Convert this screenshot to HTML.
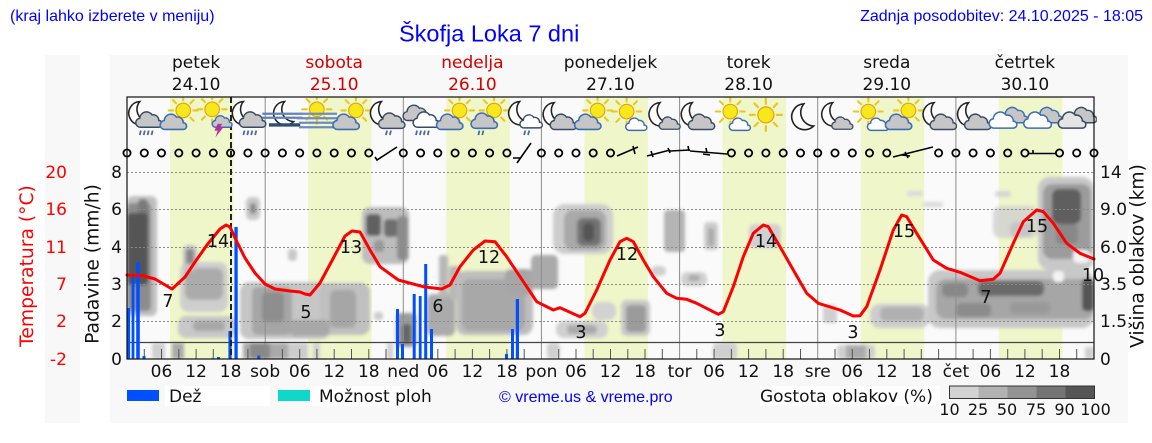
<!DOCTYPE html>
<html><head><meta charset="utf-8"><style>
html,body{margin:0;padding:0;background:#fff;}
svg{display:block;}
.dj{font-family:"DejaVu Sans","Liberation Sans",sans-serif;}
.ls{font-family:"Liberation Sans","DejaVu Sans",sans-serif;}
</style></head><body>
<svg width="1152" height="443" viewBox="0 0 1152 443" xmlns="http://www.w3.org/2000/svg">
<defs>
<clipPath id="pc"><rect x="127" y="97" width="967" height="262"/></clipPath>
<filter id="bl" x="-20%" y="-20%" width="140%" height="140%"><feGaussianBlur stdDeviation="1.5"/></filter>
<path id="cl" d="M6,16 a4,4 0 0 1 -1,-8 a6,6 0 0 1 11,-3 a5,5 0 0 1 6,5 a3,3 0 0 1 0,6 Z"/>
<path id="mn" d="M11,1 A10.5,10.5 0 1 0 19,19 A11,11 0 0 1 11,1 Z"/>
<g id="sun"><g stroke="#ebc61e" stroke-width="1.8" stroke-linecap="round"><line x1="0" y1="-9" x2="0" y2="-13"/><line x1="6.4" y1="-6.4" x2="9.2" y2="-9.2"/><line x1="9" y1="0" x2="13" y2="0"/><line x1="6.4" y1="6.4" x2="9.2" y2="9.2"/><line x1="0" y1="9" x2="0" y2="13"/><line x1="-6.4" y1="6.4" x2="-9.2" y2="9.2"/><line x1="-9" y1="0" x2="-13" y2="0"/><line x1="-6.4" y1="-6.4" x2="-9.2" y2="-9.2"/></g><circle r="6.5" fill="#f8e71c" stroke="#e0a500" stroke-width="1"/></g>
<g id="r4" stroke="#4b6b99" stroke-width="1.6"><line x1="15" y1="30" x2="14" y2="34"/><line x1="18.5" y1="30" x2="17.5" y2="34"/><line x1="22" y1="30" x2="21" y2="34"/><line x1="25.5" y1="30" x2="24.5" y2="34"/></g>
<g id="r2" stroke="#4b6b99" stroke-width="1.6"><line x1="19" y1="30" x2="18" y2="34"/><line x1="22.5" y1="30" x2="21.5" y2="34"/></g>

<symbol id="i_mcr" viewBox="0 0 36 36"><use href="#mn" transform="translate(3,3)" fill="#fff" stroke="#222" stroke-width="1.4"/><use href="#cl" transform="translate(9,11)" fill="#c6c6c6" stroke="#3a4a66" stroke-width="1.3"/><use href="#r4"/></symbol>
<symbol id="i_sc" viewBox="0 0 36 36"><use href="#sun" transform="translate(22,12)"/><use href="#cl" transform="translate(0,13)" fill="#c6c6c6" stroke="#3d6db5" stroke-width="1.4"/></symbol>
<symbol id="i_sth" viewBox="0 0 36 36"><use href="#sun" transform="translate(17,11)"/><use href="#cl" transform="translate(16,15) scale(0.75)" fill="#c6c6c6" stroke="#3d6db5" stroke-width="1.7"/><path d="M22,24 L19,30 L22,30 L20,36 L27,27 L24,27 L26,24 Z" fill="#b0309f"/></symbol>
<symbol id="i_mfog" viewBox="0 0 36 36"><use href="#mn" transform="translate(9,3)" fill="#fff" stroke="#222" stroke-width="1.4"/><line x1="0" y1="15" x2="36" y2="15" stroke="#5f82b8" stroke-width="2"/><line x1="0" y1="18.5" x2="36" y2="18.5" stroke="#5f82b8" stroke-width="2"/><line x1="6" y1="25" x2="34" y2="25" stroke="#2d4d75" stroke-width="3"/></symbol>
<symbol id="i_sfog" viewBox="0 0 36 36"><use href="#sun" transform="translate(18,11)"/><g stroke="#6c8cc0" stroke-width="2"><line x1="0" y1="15" x2="36" y2="15"/><line x1="0" y1="19" x2="36" y2="19"/><line x1="2" y1="23" x2="34" y2="23"/><line x1="2" y1="27" x2="34" y2="27"/></g></symbol>
<symbol id="i_mcr2" viewBox="0 0 36 36"><use href="#mn" transform="translate(3,3)" fill="#fff" stroke="#222" stroke-width="1.4"/><use href="#cl" transform="translate(10,12)" fill="#c6c6c6" stroke="#3a4a66" stroke-width="1.3"/><use href="#r2"/></symbol>
<symbol id="i_crain" viewBox="0 0 36 36"><use href="#cl" transform="translate(1,5)" fill="#c6c6c6" stroke="#3a4a66" stroke-width="1.3"/><use href="#cl" transform="translate(10,11)" fill="#fff" stroke="#3a4a66" stroke-width="1.3"/><use href="#r4"/></symbol>
<symbol id="i_scr" viewBox="0 0 36 36"><use href="#sun" transform="translate(22,12)"/><use href="#cl" transform="translate(0,12)" fill="#c6c6c6" stroke="#3d6db5" stroke-width="1.4"/><g stroke="#4b6b99" stroke-width="1.6"><line x1="9" y1="30" x2="8" y2="34"/><line x1="12.5" y1="30" x2="11.5" y2="34"/></g></symbol>
<symbol id="i_msc" viewBox="0 0 36 36"><use href="#mn" transform="translate(3,3)" fill="#fff" stroke="#222" stroke-width="1.4"/><use href="#cl" transform="translate(13,14) scale(0.85)" fill="#fff" stroke="#3a4a66" stroke-width="1.5"/><use href="#r2"/></symbol>
<symbol id="i_mc" viewBox="0 0 36 36"><use href="#mn" transform="translate(3,4)" fill="#fff" stroke="#222" stroke-width="1.4"/><use href="#cl" transform="translate(9,13)" fill="#c6c6c6" stroke="#3a4a66" stroke-width="1.3"/></symbol>
<symbol id="i_mcs" viewBox="0 0 36 36"><use href="#mn" transform="translate(5,4)" fill="#fff" stroke="#222" stroke-width="1.4"/><use href="#cl" transform="translate(14,16) scale(0.8)" fill="#c6c6c6" stroke="#3a4a66" stroke-width="1.5"/></symbol>
<symbol id="i_ssc" viewBox="0 0 36 36"><use href="#sun" transform="translate(17,13)"/><use href="#cl" transform="translate(15,17) scale(0.8)" fill="#fff" stroke="#3d6db5" stroke-width="1.6"/></symbol>
<symbol id="i_s" viewBox="0 0 36 36"><use href="#sun" transform="translate(18,16) scale(1.1)"/></symbol>
<symbol id="i_m" viewBox="0 0 36 36"><use href="#mn" transform="translate(9,5) scale(1.1)" fill="#fff" stroke="#222" stroke-width="1.3"/></symbol>
<symbol id="i_cc" viewBox="0 0 36 36"><use href="#cl" transform="translate(11,7)" fill="#c6c6c6" stroke="#3d6db5" stroke-width="1.3"/><use href="#cl" transform="translate(0,11) scale(1.05)" fill="#fff" stroke="#3d6db5" stroke-width="1.3"/></symbol>
<symbol id="i_ccg" viewBox="0 0 36 36"><use href="#cl" transform="translate(11,7)" fill="#c6c6c6" stroke="#3a4a66" stroke-width="1.3"/><use href="#cl" transform="translate(0,11) scale(1.05)" fill="#e4e4e4" stroke="#3a4a66" stroke-width="1.3"/></symbol>
</defs>

<rect width="1152" height="443" fill="#fff"/>
<text x="10" y="21" class="ls" font-size="16" fill="#0000ff">(kraj lahko izberete v meniju)</text>
<text x="399" y="41.5" class="ls" font-size="23.5" fill="#0000ff">Škofja Loka 7 dni</text>
<text x="1143" y="21" class="ls" font-size="16" fill="#0000ff" text-anchor="end">Zadnja posodobitev: 24.10.2025 - 18:05</text>

<rect x="45" y="55" width="35" height="368" fill="#f8f8f8"/>
<rect x="110" y="55" width="1018" height="368" fill="#f8f8f8"/>
<rect x="127" y="97" width="967" height="262" fill="#fafafa"/>

<g fill="#eff6c9">
<rect x="170" y="97" width="63.5" height="262"/>
<rect x="308.1" y="97" width="63.5" height="262"/>
<rect x="446.3" y="97" width="63.5" height="262"/>
<rect x="584.4" y="97" width="63.5" height="262"/>
<rect x="722.6" y="97" width="63.5" height="262"/>
<rect x="860.7" y="97" width="63.5" height="262"/>
<rect x="998.8" y="97" width="63.5" height="262"/>
</g>

<g clip-path="url(#pc)" filter="url(#bl)">
<rect x="127" y="196" width="30" height="120" rx="6" fill="#c0c0c0"/>
<rect x="127" y="203" width="24" height="108" rx="4" fill="#8c8c8c"/>
<rect x="138" y="199" width="10" height="30" rx="4" fill="#7a7a7a"/>
<rect x="127" y="213" width="21" height="72" rx="4" fill="#555"/>
<rect x="180" y="262" width="48" height="50" rx="9" fill="#cfcfcf"/>
<rect x="185" y="268" width="38" height="32" rx="7" fill="#ababab"/>
<rect x="183" y="245" width="14" height="26" rx="5" fill="#c4c4c4"/>
<rect x="186" y="249" width="8" height="15" rx="3" fill="#888"/>
<rect x="178" y="316" width="58" height="22" rx="8" fill="#c8c8c8"/>
<rect x="193" y="321" width="32" height="10" rx="4" fill="#a8a8a8"/>
<rect x="246" y="197" width="14" height="23" rx="5" fill="#c8c8c8"/>
<rect x="250" y="203" width="6" height="11" rx="3" fill="#888"/>
<rect x="288" y="249" width="9" height="12" rx="4" fill="#c8c8c8"/>
<rect x="240" y="282" width="90" height="57" rx="9" fill="#c6c6c6"/>
<rect x="252" y="287" width="40" height="48" rx="6" fill="#a6a6a6"/>
<rect x="262" y="292" width="22" height="30" rx="5" fill="#8e8e8e"/>
<rect x="320" y="283" width="50" height="52" rx="9" fill="#c0c0c0"/>
<rect x="330" y="290" width="26" height="38" rx="6" fill="#a6a6a6"/>
<rect x="290" y="320" width="40" height="16" rx="5" fill="#a8a8a8"/>
<rect x="362" y="207" width="47" height="57" rx="8" fill="#bdbdbd"/>
<rect x="366" y="214" width="15" height="22" rx="4" fill="#606060"/>
<rect x="384" y="219" width="14" height="18" rx="4" fill="#6e6e6e"/>
<rect x="374" y="240" width="10" height="12" rx="3" fill="#999"/>
<rect x="397" y="216" width="11" height="44" rx="4" fill="#8c8c8c"/>
<rect x="374" y="312" width="9" height="8" rx="3" fill="#cccccc"/>
<rect x="396" y="313" width="20" height="34" rx="5" fill="#9c9c9c"/>
<rect x="402" y="324" width="9" height="19" rx="3" fill="#666"/>
<rect x="427" y="294" width="28" height="42" rx="6" fill="#ababab"/>
<rect x="439" y="255" width="9" height="43" rx="3" fill="#b8b8b8"/>
<rect x="449" y="266" width="11" height="34" rx="3" fill="#b8b8b8"/>
<rect x="456" y="271" width="77" height="64" rx="10" fill="#bdbdbd"/>
<rect x="462" y="279" width="63" height="52" rx="8" fill="#a8a8a8"/>
<rect x="505" y="269" width="28" height="26" rx="6" fill="#a6a6a6"/>
<rect x="531" y="255" width="27" height="34" rx="5" fill="#aaaaaa"/>
<rect x="553" y="204" width="60" height="50" rx="12" fill="#cdcdcd"/>
<rect x="564" y="210" width="42" height="40" rx="9" fill="#a9a9a9"/>
<rect x="577" y="218" width="24" height="28" rx="6" fill="#727272"/>
<rect x="583" y="223" width="11" height="18" rx="4" fill="#555"/>
<rect x="556" y="321" width="52" height="17" rx="8" fill="#d0d0d0"/>
<rect x="567" y="325" width="30" height="9" rx="4" fill="#aaa"/>
<rect x="592" y="302" width="24" height="18" rx="8" fill="#d2d2d2"/>
<rect x="621" y="300" width="29" height="36" rx="6" fill="#c8c8c8"/>
<rect x="626" y="305" width="20" height="27" rx="4" fill="#9b9b9b"/>
<rect x="664" y="210" width="21" height="42" rx="4" fill="#b4b4b4"/>
<rect x="704" y="222" width="14" height="28" rx="4" fill="#cccccc"/>
<rect x="708" y="228" width="6" height="18" rx="2" fill="#aaa"/>
<rect x="651" y="266" width="15" height="10" rx="5" fill="#d0d0d0"/>
<rect x="681" y="272" width="26" height="14" rx="6" fill="#d0d0d0"/>
<rect x="688" y="275" width="12" height="6" rx="3" fill="#aaa"/>
<rect x="749" y="224" width="32" height="24" rx="6" fill="#d0d0d0"/>
<rect x="823" y="305" width="14" height="18" rx="3" fill="#d0d0d0"/>
<rect x="870" y="304" width="60" height="24" rx="10" fill="#cdcdcd"/>
<rect x="880" y="307" width="44" height="14" rx="6" fill="#b0b0b0"/>
<rect x="928" y="270" width="166" height="58" rx="12" fill="#c8c8c8"/>
<rect x="936" y="279" width="158" height="40" rx="10" fill="#a6a6a6"/>
<rect x="942" y="283" width="26" height="14" rx="5" fill="#888"/>
<rect x="978" y="281" width="66" height="15" rx="6" fill="#6a6a6a"/>
<rect x="956" y="303" width="35" height="14" rx="5" fill="#8c8c8c"/>
<rect x="1010" y="302" width="40" height="12" rx="5" fill="#999"/>
<rect x="1082" y="279" width="12" height="32" rx="4" fill="#555"/>
<rect x="1053" y="271" width="11" height="11" rx="4" fill="#f4f4f4"/>
<rect x="1038" y="177" width="56" height="93" rx="12" fill="#c8c8c8"/>
<rect x="1043" y="184" width="48" height="75" rx="9" fill="#9c9c9c"/>
<rect x="1052" y="189" width="29" height="35" rx="7" fill="#5e5e5e"/>
<rect x="1056" y="224" width="22" height="20" rx="5" fill="#888"/>
<rect x="1073" y="250" width="17" height="13" rx="5" fill="#f4f4f4"/>
<rect x="1010" y="222" width="22" height="15" rx="5" fill="#9c9c9c"/>
<rect x="993" y="206" width="45" height="32" rx="8" fill="#d0d0d0" opacity="0.8"/>
<rect x="995" y="191" width="16" height="6" rx="3" fill="#d6d6d6"/>
<rect x="907" y="191" width="16" height="5" rx="2" fill="#dadada"/>
<rect x="923" y="202" width="20" height="5" rx="2" fill="#dadada"/>
<rect x="152" y="343" width="13" height="16" fill="#d0d0d0"/>
<rect x="172" y="343" width="12" height="16" fill="#aaa"/>
<rect x="243" y="343" width="45" height="16" fill="#aaa"/>
<rect x="250" y="343" width="20" height="16" fill="#888"/>
<rect x="288" y="343" width="20" height="16" fill="#cccccc"/>
<rect x="313" y="343" width="7" height="16" fill="#d0d0d0"/>
<rect x="387" y="343" width="6" height="16" fill="#d0d0d0"/>
<rect x="547" y="343" width="13" height="16" rx="4" fill="#d0d0d0"/>
<rect x="713" y="343" width="24" height="16" rx="4" fill="#d0d0d0"/>
<rect x="837" y="345" width="38" height="14" rx="4" fill="#d0d0d0"/>
<rect x="846" y="345" width="20" height="14" fill="#aaa"/>
<rect x="1085" y="347" width="9" height="12" fill="#d0d0d0"/>
</g>

<g stroke="#8a8a8a" stroke-width="1" stroke-dasharray="2,2">
<line x1="127" y1="172.5" x2="1094" y2="172.5"/>
<line x1="127" y1="209.5" x2="1094" y2="209.5"/>
<line x1="127" y1="247.5" x2="1094" y2="247.5"/>
<line x1="127" y1="284.5" x2="1094" y2="284.5"/>
<line x1="127" y1="321.5" x2="1094" y2="321.5"/>
</g>
<g stroke="#8c8c8c" stroke-width="1">
<line x1="265.2" y1="97" x2="265.2" y2="359"/>
<line x1="403.3" y1="97" x2="403.3" y2="359"/>
<line x1="541.4" y1="97" x2="541.4" y2="359"/>
<line x1="679.6" y1="97" x2="679.6" y2="359"/>
<line x1="817.7" y1="97" x2="817.7" y2="359"/>
<line x1="955.9" y1="97" x2="955.9" y2="359"/>
</g>
<line x1="127" y1="342.5" x2="1094" y2="342.5" stroke="#444" stroke-width="1.3"/>

<g stroke="#555" stroke-width="1">
<path d="M144.3,349V359M161.5,349V359M178.8,349V359M196.1,349V359M213.3,349V359M230.6,349V359M247.9,349V359M282.4,349V359M299.7,349V359M316.9,349V359M334.2,349V359M351.5,349V359M368.8,349V359M386,349V359M420.6,349V359M437.8,349V359M455.1,349V359M472.4,349V359M489.6,349V359M506.9,349V359M524.2,349V359M558.7,349V359M576,349V359M593.2,349V359M610.5,349V359M627.8,349V359M645,349V359M662.3,349V359M696.8,349V359M714.1,349V359M731.4,349V359M748.6,349V359M765.9,349V359M783.2,349V359M800.5,349V359M835,349V359M852.3,349V359M869.5,349V359M886.8,349V359M904.1,349V359M921.3,349V359M938.6,349V359M973.1,349V359M990.4,349V359M1007.7,349V359M1024.9,349V359M1042.2,349V359M1059.5,349V359M1076.7,349V359"/>
</g>

<g fill="#0050ff">
<rect x="127.3" y="308" width="2.8" height="51"/>
<rect x="131.6" y="277" width="2.8" height="82"/>
<rect x="136.2" y="262" width="3.6" height="97"/>
<rect x="142.5" y="356" width="3" height="3"/>
<rect x="228.4" y="331" width="3.2" height="28"/>
<rect x="234.4" y="227" width="3.3" height="132"/>
<rect x="257.3" y="355.5" width="3" height="3.5"/>
<rect x="396" y="309" width="3" height="50"/>
<rect x="401" y="344" width="3" height="15"/>
<rect x="412.7" y="294" width="3" height="65"/>
<rect x="418.8" y="296" width="2.8" height="63"/>
<rect x="424.2" y="264" width="3" height="95"/>
<rect x="430" y="329" width="3" height="30"/>
<rect x="505" y="354" width="3" height="5"/>
<rect x="511" y="329" width="3" height="30"/>
<rect x="515.8" y="299" width="3.2" height="60"/>
<rect x="217" y="357" width="3" height="2"/>
</g>
<rect x="211.5" y="357.5" width="3" height="1.5" fill="#10d8c8"/>

<line x1="231" y1="97" x2="231" y2="359" stroke="#222" stroke-width="2" stroke-dasharray="6,3"/>

<polyline fill="none" stroke="#ff0000" stroke-width="3" stroke-linejoin="round" stroke-linecap="round" points="127,275 142,275.5 155,279 172,289 185,277 195,262 207,245 220,229 226,225 230,227 236,240 245,258 255,273 265,284 275,289 290,291 300,292 305,294 310,295 320,283 335,255 345,236 352,231 360,232 370,250 380,266.7 398.3,280 423.3,286.7 441.7,289 450,285 460,266.7 473.3,250 485,241 495,241.7 506.7,256.7 520,276.7 536.7,301.7 553.3,310 560,307.7 580,316.7 585,313.3 596.7,290 610,260 620,241.7 626.7,238.3 633.3,241.7 643.3,260 653.3,276.7 666.7,293.3 676.7,298.3 686.7,299.3 696.7,303.3 718.3,314.3 723.3,311.7 733.3,286.7 743.3,256.7 753.3,233.3 763.3,225 768.3,226.7 780,246.7 793.3,270 806.7,293.3 818.3,303.3 840,310 853.3,316 860,315.7 866.7,306.7 880,270 893.3,230 901.7,215 906.7,216.7 916.7,233.3 933.3,260 946.7,268.3 960,272.3 980,280.7 993.3,279.3 1000,273.3 1013.3,243.3 1023.3,221.7 1036.7,210 1043.3,211.7 1053.3,223.3 1066.7,243.3 1080,253.3 1094,259"/>
<g class="dj" font-size="17.5" fill="#111" text-anchor="middle">
<text x="168" y="307">7</text>
<text x="218" y="247">14</text>
<text x="306" y="318">5</text>
<text x="351" y="253">13</text>
<text x="438" y="312">6</text>
<text x="489" y="263">12</text>
<text x="581" y="338">3</text>
<text x="627" y="260">12</text>
<text x="720" y="336">3</text>
<text x="766" y="247">14</text>
<text x="853" y="338">3</text>
<text x="904" y="237">15</text>
<text x="986" y="303">7</text>
<text x="1037" y="232">15</text>
<text x="1093" y="281">10</text>
</g>

<g transform="translate(0,-2)">
<use href="#i_mcr" x="124.1" y="99" width="40.3" height="40.3"/>
<use href="#i_sc" x="158.6" y="99" width="40.3" height="40.3"/>
<use href="#i_sth" x="193.1" y="99" width="40.3" height="40.3"/>
<use href="#i_mcr" x="227.7" y="99" width="40.3" height="40.3"/>
<use href="#i_mfog" x="262.2" y="99" width="40.3" height="40.3"/>
<use href="#i_sfog" x="296.7" y="99" width="40.3" height="40.3"/>
<use href="#i_sc" x="331.3" y="99" width="40.3" height="40.3"/>
<use href="#i_mcr2" x="365.8" y="99" width="40.3" height="40.3"/>
<use href="#i_crain" x="400.3" y="99" width="40.3" height="40.3"/>
<use href="#i_sc" x="434.9" y="99" width="40.3" height="40.3"/>
<use href="#i_scr" x="469.4" y="99" width="40.3" height="40.3"/>
<use href="#i_msc" x="504" y="99" width="40.3" height="40.3"/>
<use href="#i_mc" x="538.5" y="99" width="40.3" height="40.3"/>
<use href="#i_sc" x="573" y="99" width="40.3" height="40.3"/>
<use href="#i_ssc" x="607.6" y="99" width="40.3" height="40.3"/>
<use href="#i_mcs" x="642.1" y="99" width="40.3" height="40.3"/>
<use href="#i_mc" x="676.6" y="99" width="40.3" height="40.3"/>
<use href="#i_ssc" x="711.2" y="99" width="40.3" height="40.3"/>
<use href="#i_s" x="745.7" y="99" width="40.3" height="40.3"/>
<use href="#i_m" x="780.2" y="99" width="40.3" height="40.3"/>
<use href="#i_mcs" x="814.8" y="99" width="40.3" height="40.3"/>
<use href="#i_ssc" x="849.3" y="99" width="40.3" height="40.3"/>
<use href="#i_sc" x="883.8" y="99" width="40.3" height="40.3"/>
<use href="#i_mc" x="918.4" y="99" width="40.3" height="40.3"/>
<use href="#i_mc" x="952.9" y="99" width="40.3" height="40.3"/>
<use href="#i_cc" x="987.4" y="99" width="40.3" height="40.3"/>
<use href="#i_cc" x="1022" y="99" width="40.3" height="40.3"/>
<use href="#i_ccg" x="1056.5" y="99" width="40.3" height="40.3"/>
</g>

<g fill="none" stroke="#000" stroke-width="1.8">
<circle cx="127" cy="153" r="3.6"/><circle cx="144.3" cy="153" r="3.6"/><circle cx="161.5" cy="153" r="3.6"/><circle cx="178.8" cy="153" r="3.6"/><circle cx="196.1" cy="153" r="3.6"/><circle cx="213.3" cy="153" r="3.6"/><circle cx="230.6" cy="153" r="3.6"/><circle cx="247.9" cy="153" r="3.6"/><circle cx="265.1" cy="153" r="3.6"/><circle cx="282.4" cy="153" r="3.6"/><circle cx="299.7" cy="153" r="3.6"/><circle cx="316.9" cy="153" r="3.6"/><circle cx="334.2" cy="153" r="3.6"/><circle cx="351.5" cy="153" r="3.6"/><circle cx="368.8" cy="153" r="3.6"/>
<circle cx="403.3" cy="153" r="3.6"/><circle cx="420.6" cy="153" r="3.6"/><circle cx="437.8" cy="153" r="3.6"/><circle cx="455.1" cy="153" r="3.6"/><circle cx="472.4" cy="153" r="3.6"/><circle cx="489.6" cy="153" r="3.6"/><circle cx="506.9" cy="153" r="3.6"/>
<circle cx="541.4" cy="153" r="3.6"/><circle cx="558.7" cy="153" r="3.6"/><circle cx="576" cy="153" r="3.6"/><circle cx="593.2" cy="153" r="3.6"/><circle cx="610.5" cy="153" r="3.6"/>
<circle cx="731.4" cy="153" r="3.6"/><circle cx="748.6" cy="153" r="3.6"/><circle cx="765.9" cy="153" r="3.6"/><circle cx="783.2" cy="153" r="3.6"/><circle cx="800.5" cy="153" r="3.6"/><circle cx="817.7" cy="153" r="3.6"/><circle cx="835" cy="153" r="3.6"/><circle cx="852.3" cy="153" r="3.6"/><circle cx="869.5" cy="153" r="3.6"/><circle cx="886.8" cy="153" r="3.6"/>
<circle cx="938.6" cy="153" r="3.6"/><circle cx="955.9" cy="153" r="3.6"/><circle cx="973.1" cy="153" r="3.6"/><circle cx="990.4" cy="153" r="3.6"/><circle cx="1007.7" cy="153" r="3.6"/><circle cx="1024.9" cy="153" r="3.6"/>
<circle cx="1059.5" cy="153" r="3.6"/><circle cx="1076.7" cy="153" r="3.6"/><circle cx="1094" cy="153" r="3.6"/>
<path stroke-width="1.6" d="M375,157 L377,160 L397,147 M513,158 L520,158 M517,163 L531,143 M617,156 L638,147 M633,146 L635,154 M647,156 L670,150 M651,151 L653,157 M668,148 L670,153 M670,151 L690,150 M688,146 L689,151 M690,151 L727,154 M706,148 L707,153 M703,154 L710,155 M893,157 L933,147 M905,152 L908,158 M902,155 L910,156 M1028,153.5 L1056,153.5 M1033,150 L1033,154"/>
</g>

<rect x="127" y="97" width="967" height="262" fill="none" stroke="#111" stroke-width="1.2"/>

<g class="dj" font-size="17" text-anchor="middle" fill="#111">
<text x="196.1" y="68">petek</text><text x="196.1" y="90">24.10</text>
<text x="334.2" y="68" fill="#d40000">sobota</text><text x="334.2" y="90" fill="#d40000">25.10</text>
<text x="472.4" y="68" fill="#d40000">nedelja</text><text x="472.4" y="90" fill="#d40000">26.10</text>
<text x="610.5" y="68">ponedeljek</text><text x="610.5" y="90">27.10</text>
<text x="748.6" y="68">torek</text><text x="748.6" y="90">28.10</text>
<text x="886.8" y="68">sreda</text><text x="886.8" y="90">29.10</text>
<text x="1024.9" y="68">četrtek</text><text x="1024.9" y="90">30.10</text>
</g>

<g class="dj" font-size="17" text-anchor="middle" fill="#111">
<text x="161.5" y="377">06</text><text x="196.1" y="377">12</text><text x="230.6" y="377">18</text>
<text x="265.1" y="377">sob</text><text x="299.7" y="377">06</text><text x="334.2" y="377">12</text><text x="368.8" y="377">18</text>
<text x="403.3" y="377">ned</text><text x="437.8" y="377">06</text><text x="472.4" y="377">12</text><text x="506.9" y="377">18</text>
<text x="541.4" y="377">pon</text><text x="576" y="377">06</text><text x="610.5" y="377">12</text><text x="645" y="377">18</text>
<text x="679.6" y="377">tor</text><text x="714.1" y="377">06</text><text x="748.6" y="377">12</text><text x="783.2" y="377">18</text>
<text x="817.7" y="377">sre</text><text x="852.3" y="377">06</text><text x="886.8" y="377">12</text><text x="921.3" y="377">18</text>
<text x="955.9" y="377">čet</text><text x="990.4" y="377">06</text><text x="1024.9" y="377">12</text><text x="1059.5" y="377">18</text>
</g>

<g class="dj" font-size="17" text-anchor="end" fill="#111">
<text x="122" y="178">8</text><text x="122" y="215">6</text><text x="122" y="253">4</text><text x="122" y="290">3</text><text x="122" y="327">2</text><text x="122" y="365">0</text>
</g>
<g class="dj" font-size="17" text-anchor="end" fill="#ff0000">
<text x="67" y="178">20</text><text x="67" y="215">16</text><text x="67" y="253">11</text><text x="67" y="290">7</text><text x="67" y="327">2</text><text x="67" y="365">-2</text>
</g>
<g class="dj" font-size="17" fill="#111">
<text x="1100" y="178">14</text><text x="1100" y="215">9.0</text><text x="1100" y="253">6.0</text><text x="1100" y="290">3.5</text><text x="1100" y="327">1.5</text><text x="1100" y="365">0</text>
</g>
<text class="dj" font-size="18.7" fill="#ff0000" text-anchor="middle" transform="translate(33,266) rotate(-90)">Temperatura (°C)</text>
<text class="dj" font-size="18.7" fill="#111" text-anchor="middle" transform="translate(98.5,264) rotate(-90)">Padavine (mm/h)</text>
<text class="dj" font-size="18.7" fill="#111" text-anchor="middle" transform="translate(1143.5,256) rotate(-90)">Višina oblakov (km)</text>

<rect x="127" y="390" width="32" height="11" fill="#0050ff"/>
<rect x="165" y="386" width="105" height="20" fill="#fff"/>
<text x="169" y="402" class="dj" font-size="17" fill="#111">Dež</text>
<rect x="278" y="390" width="32" height="11" fill="#10d8c8"/>
<rect x="310" y="386" width="110" height="20" fill="#fff"/>
<text x="319" y="402" class="dj" font-size="17" fill="#111">Možnost ploh</text>
<text x="499" y="402" class="ls" font-size="16" fill="#0000ff">© vreme.us &amp; vreme.pro</text>
<rect x="760" y="386" width="180" height="20" fill="#fff"/>
<text x="760" y="402" class="dj" font-size="17" fill="#111">Gostota oblakov (%)</text>
<rect x="949.5" y="386" width="29" height="12.5" fill="#d2d2d2"/>
<rect x="978.5" y="386" width="29" height="12.5" fill="#b2b2b2"/>
<rect x="1007.5" y="386" width="29" height="12.5" fill="#939393"/>
<rect x="1036.5" y="386" width="29" height="12.5" fill="#747474"/>
<rect x="1065.5" y="386" width="29" height="12.5" fill="#555"/>
<rect x="949.5" y="386" width="145" height="12.5" fill="none" stroke="#333" stroke-width="1"/>
<g class="dj" font-size="16" fill="#111" text-anchor="middle">
<text x="949.5" y="415">10</text>
<text x="978" y="415">25</text>
<text x="1007" y="415">50</text>
<text x="1036" y="415">75</text>
<text x="1064.5" y="415">90</text>
<text x="1095.5" y="415">100</text>
</g>
</svg>
</body></html>
